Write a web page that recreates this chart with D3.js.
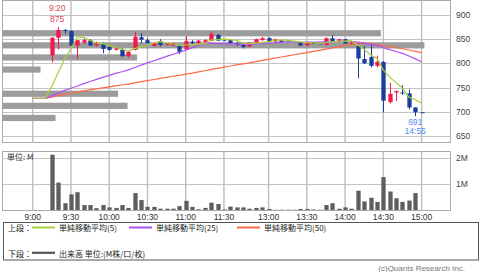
<!DOCTYPE html>
<html><head><meta charset="utf-8">
<script src="https://cdn.jsdelivr.net/npm/d3@7"></script>
<style>body{margin:0;background:#fff;} svg{display:block;}</style>
</head><body><svg id="c" width="480" height="272"></svg>
<script>
// ---- data ----
const times = ["9:00","9:05","9:10","9:15","9:20","9:25","9:30","9:35","9:40","9:45","9:50","9:55",
"10:00","10:05","10:10","10:15","10:20","10:25","10:30","10:35","10:40","10:45","10:50","10:55",
"11:00","11:05","11:10","11:15","11:20","11:25","11:30",
"12:30","12:35","12:40","12:45","12:50","12:55",
"13:00","13:05","13:10","13:15","13:20","13:25","13:30","13:35","13:40","13:45","13:50","13:55",
"14:00","14:05","14:10","14:15","14:20","14:25","14:30","14:35","14:40","14:45","14:50","14:55","15:00"];
const opens  = [null,null,null,817,853,869,867,837,843,848,837,841,834,828,829,815,828,854,848,836,846,838,837,836,829,845,841,843,847,859,849,
848,842,838,835,843,848,852,845,848,846.5,846,843,837,842,841.5,838,852,844,850,841,836,809,813,795,803,720,740,740,738,709,699];
const highs  = [null,null,null,854,875,871,868,848,852,850,845,843,837,832,831,825,865,862,852,843,850,842,843,838,856,848,849,850,866,861,850,
849,845,839,844,851,855,854,851,849,847,846,844,844,842,842,854,859,851,851,845,842,836,838,816,805,760,744,755,746,709,699];
const lows   = [null,null,null,802,829,861,836,809,840,836,835,821,826,827,814,812,827,842,841,835,835,837,836,819,828,838,840,842,846,846,847,
841,836,831,834,842,847,844,844,843,845,845,836,836,840,840,837,845,843,840,840,769,799,792,792,699,717,722,735,705,691,699];
const closes = [null,null,null,853,869,867,837,848,848,837,841,830,828,831,815,824,855,849,842,841,838,841,841,824,846,842,847,848,861,847,848,
842,839,834,843,850,852,845,850,844,846,845,837,843,841,841,852,846,850,841,843,810,800,795,803.5,723,737,743,739,709,699,699];
const volumes = [0,0,0,2.12,1.05,0.26,0.60,0.68,0.19,0.19,0.07,0.19,0.10,0.08,0.19,0.08,0.65,0.38,0.12,0.12,0.05,0.05,0.05,0.15,0.35,0.12,0.03,0.08,0.28,0.23,0.02,
0.13,0.10,0.10,0.05,0.08,0.10,0.04,0.01,0.01,0.01,0.01,0.04,0.04,0.02,0.01,0.19,0.26,0.05,0.10,0.05,0.74,0.33,0.47,0.31,1.26,0.71,0.45,0.31,0.36,0.65,0];
const prevClose = 728;
const vbpPrices = [862.5,837.5,812.5,787.5,762.5,737.5,712.5,687.5];
const vbpVolumes = [4.78,5.33,1.70,0.48,0,1.46,1.58,0.67];
const xTickLabels = ["9:00","9:30","10:00","10:30","11:00","11:30","13:00","13:30","14:00","14:30","15:00"];
const priceTicks = [650,700,750,800,850,900];
const volTicks = [1,2];
const maPeriods = [50,25,5];
const maColors = {5:"#a9cf38",25:"#b050f2",50:"#ff6a45"};

// ---- layout ----
const svg = d3.select("#c");
const P = {l:2.5, r:450.5, t:0.5, b:142.5};
const V = {t:151.5, b:210.5};
const x = d3.scaleLinear().domain([0, times.length-1]).range([32.7, 421.6]);
const y = d3.scaleLinear().domain([650,900]).range([136,15]);
const yv = d3.scaleLinear().domain([0,2]).range([210,157.8]);
const xv = d3.scaleLinear().domain([0,5.66]).range([P.l, P.r]);
const gridC = "#c4c4c4", borderC = "#aaaaaa";
const RED = "#f2194e", BLUE = "#1b3d9b";
const font = "'Liberation Sans', Arial, sans-serif";
const jfont = "'Noto Sans CJK JP', sans-serif";

// borders
[[P.t,P.b],[V.t,V.b]].forEach(([t,b])=>{
  svg.append("rect").attr("x",P.l).attr("y",t).attr("width",P.r-P.l).attr("height",b-t)
    .attr("fill","none").attr("stroke",borderC).attr("stroke-width",1);
});

// horizontal grids
const gp = svg.append("g");
gp.selectAll("line").data(priceTicks).join("line")
  .attr("x1",P.l).attr("x2",P.r).attr("y1",d=>Math.round(y(d))+0.5).attr("y2",d=>Math.round(y(d))+0.5)
  .attr("stroke",gridC).attr("stroke-width",1);
svg.append("g").selectAll("line").data(volTicks).join("line")
  .attr("x1",P.l).attr("x2",P.r).attr("y1",d=>Math.round(yv(d))+0.5).attr("y2",d=>Math.round(yv(d))+0.5)
  .attr("stroke",gridC).attr("stroke-width",1);

// vertical grids
const xi = t => times.indexOf(t);
[[P.t,P.b],[V.t,V.b]].forEach(([t,b])=>{
  svg.append("g").selectAll("line").data(xTickLabels).join("line")
    .attr("x1",d=>x(xi(d))).attr("x2",d=>x(xi(d))).attr("y1",t).attr("y2",b)
    .attr("stroke","#bdbdbd").attr("stroke-width",1.4);
});

// right axis labels
svg.append("g").selectAll("text").data(priceTicks).join("text")
  .attr("x",456).attr("y",d=>y(d)+3).text(d=>d)
  .attr("font-family",font).attr("font-size",8.5).attr("fill","#444");
svg.append("g").selectAll("text").data(volTicks).join("text")
  .attr("x",456).attr("y",d=>yv(d)+3).text(d=>d+"M")
  .attr("font-family",font).attr("font-size",8.5).attr("fill","#444");

// time labels
svg.append("g").selectAll("text").data(xTickLabels).join("text")
  .attr("x",d=>x(xi(d))).attr("y",219.5).attr("text-anchor","middle").text(d=>d)
  .attr("font-family",font).attr("font-size",8.5).attr("fill","#333");

// volume-by-price bars
svg.append("g").selectAll("rect").data(vbpPrices.map((p,i)=>({p,v:vbpVolumes[i]})).filter(d=>d.v>0)).join("rect")
  .attr("x",xv(0)).attr("width",d=>xv(d.v)-xv(0))
  .attr("y",d=>y(d.p)-3).attr("height",6.2).attr("fill","#9c9c9c");

// candles
const idx = d3.range(times.length).filter(i=>opens[i]!=null);
const cw = 4.3;
const cg = svg.append("g");
cg.selectAll("line").data(idx).join("line")
  .attr("x1",i=>Math.round(x(i))+0.5).attr("x2",i=>Math.round(x(i))+0.5)
  .attr("y1",i=>y(highs[i])).attr("y2",i=>y(lows[i]))
  .attr("stroke",i=>closes[i]>opens[i]?RED:BLUE).attr("stroke-width",1);
cg.selectAll("rect").data(idx).join("rect")
  .attr("x",i=>Math.round(x(i))+0.5-cw/2).attr("width",cw)
  .attr("y",i=>y(Math.max(opens[i],closes[i])))
  .attr("height",i=>Math.max(1,Math.abs(y(opens[i])-y(closes[i]))))
  .attr("fill",i=>closes[i]>opens[i]?RED:BLUE);

// moving averages
function sma(n){
  return closes.map((_,i)=>{
    let s=0;
    for(let k=i-n+1;k<=i;k++) s += (k<0||closes[k]==null)?prevClose:closes[k];
    return s/n;
  });
}
const line = d3.line().x((d,i)=>x(i)).y(d=>y(d));
maPeriods.forEach(n=>{
  svg.append("path").datum(sma(n)).attr("d",line).attr("fill","none")
    .attr("stroke",maColors[n]).attr("stroke-width",1.2);
});

// high / low labels
const hiI = d3.maxIndex(highs), loI = d3.minIndex(lows);
const hl = svg.append("g").attr("font-family",font).attr("font-size",8.5).attr("text-anchor","middle");
hl.append("text").attr("x",x(hiI)-1).attr("y",y(highs[hiI])-16.5).attr("fill","#e0465e").text(times[hiI]);
hl.append("text").attr("x",x(hiI)-1).attr("y",y(highs[hiI])-5.5).attr("fill","#e0465e").text(highs[hiI]);
hl.append("text").attr("x",x(loI)).attr("y",y(lows[loI])+8.5).attr("fill","#4f8cef").text(lows[loI]);
hl.append("text").attr("x",x(loI)).attr("y",y(lows[loI])+18).attr("fill","#4f8cef").text(times[loI]);

// volume bars
svg.append("g").selectAll("rect").data(d3.range(times.length).filter(i=>volumes[i]>0)).join("rect")
  .attr("x",i=>Math.round(x(i))+0.5-cw/2).attr("width",cw)
  .attr("y",i=>yv(volumes[i])).attr("height",i=>yv(0)-yv(volumes[i]))
  .attr("fill","#5e5e5e");

svg.append("text").attr("x",7).attr("y",160).text("単位: M")
  .attr("font-family",jfont).attr("font-size",8).attr("fill","#333");

// legend
svg.append("rect").attr("x",3.5).attr("y",222.5).attr("width",475).attr("height",37.5)
  .attr("fill","none").attr("stroke","#555").attr("stroke-width",1);
const lg = svg.append("g").attr("font-family",jfont).attr("font-size",8).attr("fill","#222");
lg.append("text").attr("x",8).attr("y",231).text("上段：");
const legItems = [{n:5,x:32},{n:25,x:129},{n:50,x:237}];
legItems.forEach(d=>{
  lg.append("line").attr("x1",d.x).attr("x2",d.x+23).attr("y1",227.5).attr("y2",227.5)
    .attr("stroke",maColors[d.n]).attr("stroke-width",2);
  lg.append("text").attr("x",d.x+27).attr("y",231).text("単純移動平均("+d.n+")");
});
lg.append("text").attr("x",8).attr("y",256.5).text("下段：");
lg.append("line").attr("x1",32).attr("x2",55).attr("y1",252.8).attr("y2",252.8)
  .attr("stroke","#555").attr("stroke-width",2.2);
lg.append("text").attr("x",59).attr("y",256.5).text("出来高 単位:(M株/口/枚)");

svg.append("text").attr("x",465).attr("y",271).attr("text-anchor","end")
  .text("(c)Quants Research Inc.").attr("font-family",font).attr("font-size",8).attr("fill","#777");
</script></body></html>
